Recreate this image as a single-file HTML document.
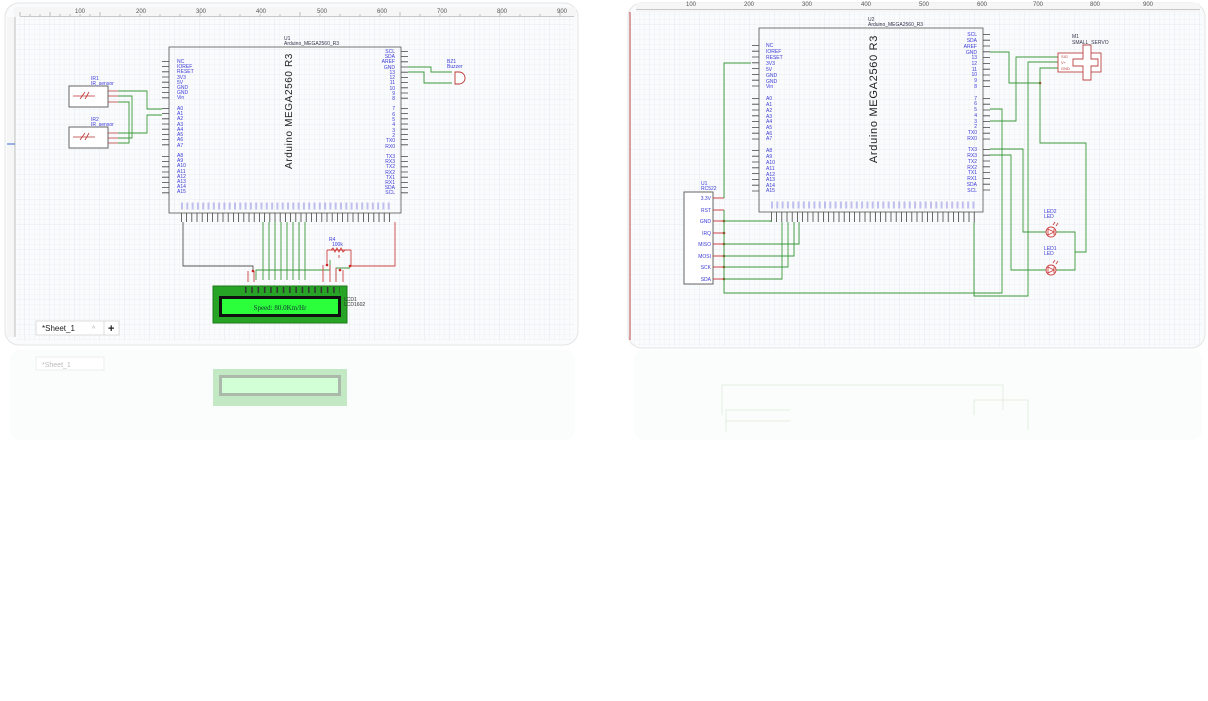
<!DOCTYPE html>
<html><head><meta charset="utf-8"><style>
html,body{margin:0;padding:0;background:#fff;width:1208px;height:701px;overflow:hidden}
svg{display:block}
.pl{font:5px "Liberation Sans",sans-serif;fill:#3b3bd9}
.sm{font:5px "Liberation Sans",sans-serif;fill:#33334a}
.rl{font:6px "Liberation Sans",sans-serif;fill:#555}
</style></head><body>
<svg width="1208" height="701" viewBox="0 0 1208 701" xmlns="http://www.w3.org/2000/svg">
<defs>
<pattern id="g" width="5" height="5" patternUnits="userSpaceOnUse"><path d="M5 0V5M0 5H5" stroke="#e9ebf0" stroke-width="0.6" fill="none"/></pattern>
<pattern id="G" width="25" height="25" patternUnits="userSpaceOnUse"><rect width="25" height="25" fill="url(#g)"/><path d="M25 0V25M0 25H25" stroke="#dfe2ea" stroke-width="0.6" fill="none"/></pattern>
</defs>

<!-- LEFT PANEL -->
<rect x="5" y="3" width="573" height="342" rx="14" fill="#fafbfc" stroke="#e4e4e4"/>
<rect x="16" y="17" width="558" height="324" fill="url(#G)"/>
<rect x="14" y="7" width="562" height="10" fill="#f6f6f6"/>
<path d="M20 16.5H574" stroke="#999" stroke-width="0.6"/>
<path d="M20 16V12M30 16V14M40 16V14M50 16V12M60 16V14M70 16V14M80 16V14M90 16V14M100 16V12M120 16V14M140 16V14M160 16V14M180 16V14M200 16V12M220 16V14M240 16V14M260 16V14M280 16V14M300 16V12M320 16V14M340 16V14M360 16V14M380 16V14M400 16V12M420 16V14M440 16V14M460 16V14M480 16V14M500 16V12M520 16V14M540 16V14M560 16V12" stroke="#999" stroke-width="0.6"/>
<text x="75" y="13" class="rl">100</text><text x="136" y="13" class="rl">200</text><text x="196" y="13" class="rl">300</text><text x="256" y="13" class="rl">400</text><text x="317" y="13" class="rl">500</text><text x="377" y="13" class="rl">600</text><text x="437" y="13" class="rl">700</text><text x="497" y="13" class="rl">800</text><text x="557" y="13" class="rl">900</text>
<rect x="7" y="17" width="8" height="320" fill="#f6f6f6"/>
<path d="M15 17V337" stroke="#999" stroke-width="0.6"/>
<path d="M7 144H15" stroke="#3a6fd0" stroke-width="1"/>

<!-- Arduino U1 -->
<rect x="169" y="47" width="232" height="166" fill="none" stroke="#666" stroke-width="0.9"/>
<text x="284" y="40" class="sm">U1</text><text x="284" y="45" class="sm">Arduino_MEGA2560_R3</text>
<text transform="translate(292,111) rotate(-90)" text-anchor="middle" style="font:10px 'Liberation Sans',sans-serif;fill:#222;letter-spacing:0.6px">Arduino MEGA2560 R3</text>
<g stroke="#444" stroke-width="7" stroke-dasharray="0.8 4.4" fill="none">
<path d="M165.5 61V100"/><path d="M165.5 108V147"/><path d="M165.5 156V195"/>
<path d="M404.5 51V100"/><path d="M404.5 108V147"/><path d="M404.5 156V195"/>
</g>
<path d="M181 217.5H392" stroke="#444" stroke-width="9" stroke-dasharray="0.8 4.4"/>
<path d="M181 206H392" stroke="#7a7ae0" stroke-width="7" stroke-dasharray="2 3.3" opacity="0.45"/>
<g class="pl">
<text x="177" y="63">NC</text><text x="177" y="68">IOREF</text><text x="177" y="73">RESET</text><text x="177" y="79">3V3</text><text x="177" y="84">5V</text><text x="177" y="89">GND</text><text x="177" y="94">GND</text><text x="177" y="99">Vin</text>
<text x="177" y="110">A0</text><text x="177" y="115">A1</text><text x="177" y="120">A2</text><text x="177" y="126">A3</text><text x="177" y="131">A4</text><text x="177" y="136">A5</text><text x="177" y="141">A6</text><text x="177" y="147">A7</text>
<text x="177" y="157">A8</text><text x="177" y="162">A9</text><text x="177" y="167">A10</text><text x="177" y="173">A11</text><text x="177" y="178">A12</text><text x="177" y="183">A13</text><text x="177" y="188">A14</text><text x="177" y="193">A15</text>
</g>
<g class="pl" text-anchor="end">
<text x="395" y="53">SCL</text><text x="395" y="58">SDA</text><text x="395" y="63">AREF</text><text x="395" y="69">GND</text><text x="395" y="74">13</text><text x="395" y="79">12</text><text x="395" y="84">11</text><text x="395" y="90">10</text><text x="395" y="95">9</text><text x="395" y="100">8</text>
<text x="395" y="110">7</text><text x="395" y="116">6</text><text x="395" y="121">5</text><text x="395" y="126">4</text><text x="395" y="132">3</text><text x="395" y="137">2</text><text x="395" y="142">TX0</text><text x="395" y="148">RX0</text>
<text x="395" y="158">TX3</text><text x="395" y="163">RX3</text><text x="395" y="168">TX2</text><text x="395" y="174">RX2</text><text x="395" y="179">TX1</text><text x="395" y="184">RX1</text><text x="395" y="189">SDA</text><text x="395" y="194">SCL</text>
</g>

<!-- IR sensors -->
<rect x="69" y="86" width="39" height="21" fill="#fff" stroke="#666"/>
<rect x="69" y="127" width="39" height="21" fill="#fff" stroke="#666"/>
<text x="91" y="80" class="pl">IR1</text><text x="91" y="85" class="pl">IR_sensor</text>
<text x="91" y="121" class="pl">IR2</text><text x="91" y="126" class="pl">IR_sensor</text>
<g stroke="#b33" stroke-width="0.8" fill="none"><path d="M73 96H95M80 99L85 92M85 99L89 92"/><path d="M73 137H95M80 140L85 133M85 140L89 133"/>
<path d="M108 91H118M108 96H118M108 102H118M108 133H118M108 138H118M108 143H118"/></g>
<g stroke="#3a9a3a" stroke-width="0.9" fill="none">
<path d="M118 91H147V109H162"/><path d="M118 133H147V115H162"/>
<path d="M118 96H132V138H118"/><path d="M118 102H129V143H118"/>
<path d="M408 67H431V72H452"/><path d="M408 72H424V83H452"/>
<path d="M263 222V280M269 222V280M275 222V280M281 222V280M287 222V280M293 222V280M299 222V280M305 222V280"/>
<path d="M256 280V270H330V260M336 280V268H350"/>
</g>
<path d="M455 72H459A6 6 0 0 1 459 84H455Z" fill="#fff" stroke="#b33" stroke-width="0.9"/>
<text x="447" y="63" class="pl">BZ1</text><text x="447" y="68" class="pl">Buzzer</text>
<g stroke="#555" stroke-width="0.9" fill="none"><path d="M183 222V266H253V271"/></g>
<g stroke="#c44" stroke-width="0.9" fill="none"><path d="M395 222V266H350"/><path d="M327 250V265M351 250V266"/>
<path d="M327 250H351"/><path d="M331 250l2-2 2 4 2-4 2 4 2-4 2 4 2-2"/><path d="M339 255V258"/>
<path d="M248 271V282M254 271V282M323 265V282M330 265V282M336 268V282M343 270V282"/></g>
<g fill="#c22"><circle cx="253" cy="271" r="1.3"/><circle cx="327" cy="265" r="1.3"/><circle cx="350" cy="266" r="1.3"/><circle cx="340" cy="270" r="1.3"/></g>
<text x="329" y="241" class="pl">R4</text><text x="332" y="246" class="pl">100k</text>
<!-- LCD -->
<rect x="213" y="286" width="134" height="37" fill="#27a326" stroke="#1e7a1e"/>
<rect x="219" y="296" width="122" height="21" fill="#111"/>
<rect x="222" y="299" width="116" height="15" fill="#2bff3b"/>
<text x="280" y="310" text-anchor="middle" style="font:7px 'Liberation Serif',serif;fill:#133">Speed: 80.0Km/Hr</text>
<path d="M245 290H340" stroke="#333" stroke-width="6" stroke-dasharray="1.5 4.8"/>
<text x="344" y="301" class="pl" style="fill:#333">LCD1</text><text x="344" y="306" class="pl" style="fill:#333">LCD1602</text>
<!-- sheet tab -->
<rect x="36" y="321" width="68" height="14" fill="#fff" stroke="#ddd"/>
<text x="42" y="331" style="font:8px 'Liberation Sans',sans-serif;fill:#222">*Sheet_1</text>
<text x="92" y="331" style="font:7px 'Liberation Sans',sans-serif;fill:#aaa">^</text>
<rect x="104" y="321" width="15" height="14" fill="#fff" stroke="#ddd"/>
<text x="108" y="332" style="font:bold 11px 'Liberation Sans',sans-serif;fill:#222">+</text>

<!-- RIGHT PANEL -->
<rect x="628" y="3" width="577" height="345" rx="14" fill="#fafbfc" stroke="#e4e4e4"/>
<rect x="630" y="12" width="572" height="334" fill="url(#G)"/>
<rect x="636" y="3" width="564" height="9" fill="#f6f6f6"/>
<path d="M636 9.5H1200" stroke="#999" stroke-width="0.6"/>
<text x="686" y="6" class="rl">100</text><text x="744" y="6" class="rl">200</text><text x="802" y="6" class="rl">300</text><text x="861" y="6" class="rl">400</text><text x="919" y="6" class="rl">500</text><text x="977" y="6" class="rl">600</text><text x="1033" y="6" class="rl">700</text><text x="1090" y="6" class="rl">800</text><text x="1143" y="6" class="rl">900</text>
<path d="M630 12V340" stroke="#b44" stroke-width="1"/>
<rect x="759" y="28" width="224" height="184" fill="none" stroke="#666" stroke-width="0.9"/>
<text x="868" y="21" class="sm">U2</text><text x="868" y="26" class="sm">Arduino_MEGA2560_R3</text>
<text transform="translate(877,99) rotate(-90)" text-anchor="middle" style="font:11px 'Liberation Sans',sans-serif;fill:#222;letter-spacing:0.7px">Arduino MEGA2560 R3</text>
<g stroke="#444" stroke-width="7" stroke-dasharray="0.8 5" fill="none">
<path d="M755.5 45V88"/><path d="M755.5 98V140"/><path d="M755.5 150V192"/>
<path d="M986.5 34V88"/><path d="M986.5 98V140"/><path d="M986.5 149V192"/>
</g>
<path d="M771 217H975" stroke="#444" stroke-width="10" stroke-dasharray="0.8 4.4"/>
<path d="M771 205H975" stroke="#7a7ae0" stroke-width="7" stroke-dasharray="2 3.3" opacity="0.45"/>
<g class="pl">
<text x="766" y="47">NC</text><text x="766" y="53">IOREF</text><text x="766" y="59">RESET</text><text x="766" y="65">3V3</text><text x="766" y="71">5V</text><text x="766" y="77">GND</text><text x="766" y="83">GND</text><text x="766" y="88">Vin</text>
<text x="766" y="100">A0</text><text x="766" y="106">A1</text><text x="766" y="112">A2</text><text x="766" y="118">A3</text><text x="766" y="123">A4</text><text x="766" y="129">A5</text><text x="766" y="135">A6</text><text x="766" y="140">A7</text>
<text x="766" y="152">A8</text><text x="766" y="158">A9</text><text x="766" y="164">A10</text><text x="766" y="170">A11</text><text x="766" y="176">A12</text><text x="766" y="181">A13</text><text x="766" y="187">A14</text><text x="766" y="192">A15</text>
</g>
<g class="pl" text-anchor="end">
<text x="977" y="36">SCL</text><text x="977" y="42">SDA</text><text x="977" y="48">AREF</text><text x="977" y="54">GND</text><text x="977" y="59">13</text><text x="977" y="65">12</text><text x="977" y="71">11</text><text x="977" y="76">10</text><text x="977" y="82">9</text><text x="977" y="88">8</text>
<text x="977" y="100">7</text><text x="977" y="105">6</text><text x="977" y="111">5</text><text x="977" y="117">4</text><text x="977" y="123">3</text><text x="977" y="128">2</text><text x="977" y="134">TX0</text><text x="977" y="140">RX0</text>
<text x="977" y="151">TX3</text><text x="977" y="157">RX3</text><text x="977" y="163">TX2</text><text x="977" y="169">RX2</text><text x="977" y="174">TX1</text><text x="977" y="180">RX1</text><text x="977" y="186">SDA</text><text x="977" y="192">SCL</text>
</g>
<rect x="684" y="192" width="29" height="92" fill="#fff" stroke="#666"/>
<text x="701" y="185" class="pl">U1</text><text x="701" y="190" class="pl">RC522</text>
<g class="pl" text-anchor="end"><text x="711" y="200">3.3V</text><text x="711" y="212">RST</text><text x="711" y="223">GND</text><text x="711" y="235">IRQ</text><text x="711" y="246">MISO</text><text x="711" y="258">MOSI</text><text x="711" y="269">SCK</text><text x="711" y="281">SDA</text></g>
<g stroke="#c44" stroke-width="0.9"><path d="M713 198H724M713 210H724M713 221H724M713 233H724M713 244H724M713 256H724M713 267H724M713 279H724"/></g>
<g fill="#c22"><circle cx="724" cy="221" r="1.3"/><circle cx="724" cy="233" r="1.3"/><circle cx="724" cy="244" r="1.3"/><circle cx="724" cy="256" r="1.3"/><circle cx="724" cy="267" r="1.3"/><circle cx="724" cy="279" r="1.3"/><circle cx="1040" cy="83" r="1.3"/></g>
<g stroke="#3a9a3a" stroke-width="0.9" fill="none">
<path d="M724 198V63H751"/>
<path d="M724 210V293H1002V109H990"/>
<path d="M724 221H771V222"/><path d="M724 244H799V222"/><path d="M724 256H794V222"/><path d="M724 267H788V222"/><path d="M724 279H782V222"/>
<path d="M990 52H1009V83H1040"/>
<path d="M990 121H1016V57H1058"/>
<path d="M1058 62H1028V296H974V222"/>
<path d="M1058 68H1040V143H1086V252H1075"/>
<path d="M990 149H1023V232H1046"/><path d="M990 155H1011V270H1046"/>
<path d="M1056 232H1075V270H1056"/>
</g>
<g stroke="#b44" stroke-width="0.9" fill="#fff">
<rect x="1058" y="53" width="43" height="19"/>
<path d="M1083 45H1091V59H1098V66H1091V80H1083V66H1073V59H1083Z"/>
</g>
<text x="1061" y="58" style="font:4px 'Liberation Sans',sans-serif;fill:#b44">SIG</text><text x="1061" y="64" style="font:4px 'Liberation Sans',sans-serif;fill:#b44">V+</text><text x="1061" y="70" style="font:4px 'Liberation Sans',sans-serif;fill:#b44">GND</text>
<text x="1072" y="38" class="sm">M1</text><text x="1072" y="44" class="sm">SMALL_SERVO</text>
<g stroke="#c44" stroke-width="0.9" fill="#fff">
<circle cx="1051" cy="232" r="5"/><path d="M1048 229L1054 232L1048 235Z M1054 229V235"/>
<circle cx="1051" cy="270" r="5"/><path d="M1048 267L1054 270L1048 273Z M1054 267V273"/>
<path d="M1053 225l2-3M1056 226l2-3M1053 263l2-3M1056 264l2-3" fill="none"/>
</g>
<text x="1044" y="213" class="pl">LED2</text><text x="1044" y="218" class="pl">LED</text>
<text x="1044" y="250" class="pl">LED1</text><text x="1044" y="255" class="pl">LED</text>

<!-- reflections -->
<rect x="10" y="350" width="565" height="90" rx="10" fill="#f8f9fa" opacity="0.5"/>
<rect x="634" y="350" width="568" height="90" rx="10" fill="#f8f9fa" opacity="0.5"/>
<rect x="36" y="357" width="68" height="13" fill="#fff" stroke="#eee"/>
<text x="42" y="367" style="font:7px 'Liberation Sans',sans-serif;fill:#bbb">*Sheet_1</text>
<rect x="213" y="369" width="134" height="37" fill="#b5e2b5" opacity="0.8"/>
<rect x="219" y="375" width="122" height="21" fill="#999" opacity="0.6"/>
<rect x="222" y="378" width="116" height="15" fill="#d2ffd5"/>
<g stroke="#d8ebd8" stroke-width="0.7" fill="none"><path d="M722 415V385H1003V410M726 432V410H790M726 421H790M974 415V400H1028V430"/></g>
</svg>
</body></html>
